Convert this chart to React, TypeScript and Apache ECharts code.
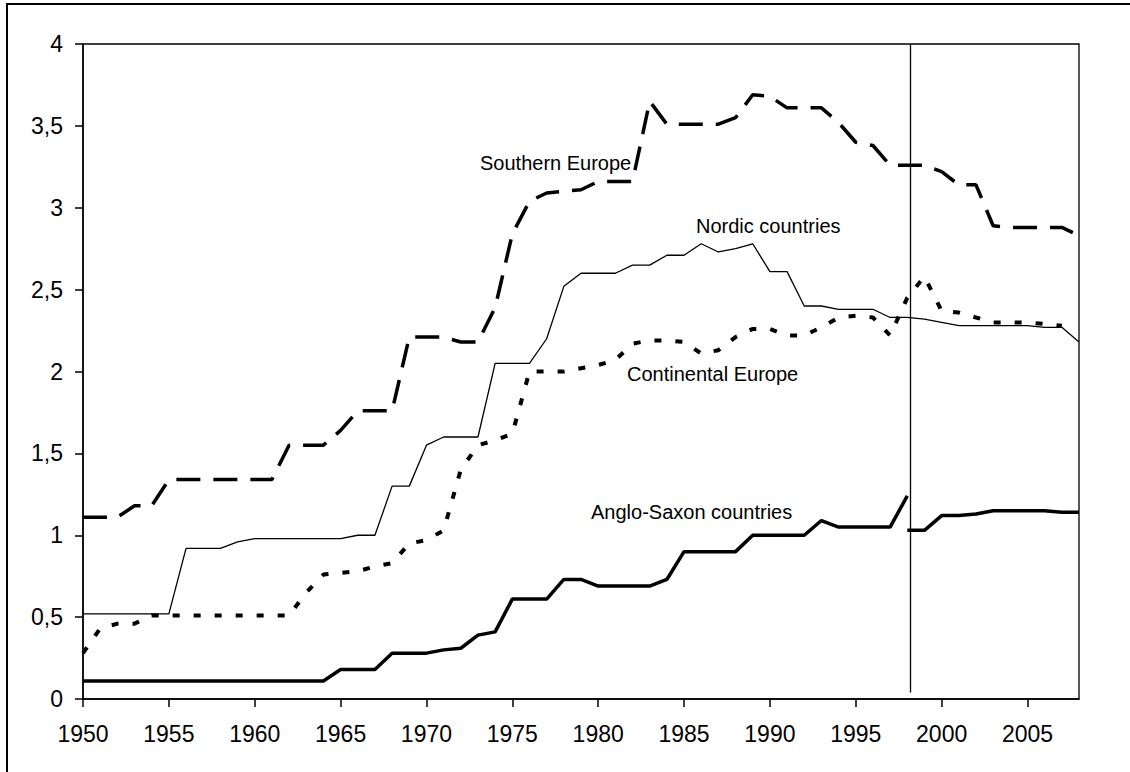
import React, { useEffect, useRef } from "react";
import * as echarts from "echarts";

const YEARS = [
  1950, 1951, 1952, 1953, 1954, 1955, 1956, 1957, 1958, 1959,
  1960, 1961, 1962, 1963, 1964, 1965, 1966, 1967, 1968, 1969,
  1970, 1971, 1972, 1973, 1974, 1975, 1976, 1977, 1978, 1979,
  1980, 1981, 1982, 1983, 1984, 1985, 1986, 1987, 1988, 1989,
  1990, 1991, 1992, 1993, 1994, 1995, 1996, 1997, 1998, 1999,
  2000, 2001, 2002, 2003, 2004, 2005, 2006, 2007, 2008,
];

const X_TICKS = [1950, 1955, 1960, 1965, 1970, 1975, 1980, 1985, 1990, 1995, 2000, 2005];

const SOUTHERN_EUROPE = [
  1.11, 1.11, 1.11, 1.18, 1.18, 1.34, 1.34, 1.34, 1.34, 1.34,
  1.34, 1.34, 1.55, 1.55, 1.55, 1.64, 1.76, 1.76, 1.76, 2.21,
  2.21, 2.21, 2.18, 2.18, 2.39, 2.84, 3.04, 3.09, 3.10, 3.11,
  3.16, 3.16, 3.16, 3.65, 3.51, 3.51, 3.51, 3.51, 3.55, 3.69,
  3.68, 3.61, 3.61, 3.61, 3.52, 3.40, 3.38, 3.26, 3.26, 3.26,
  3.22, 3.14, 3.14, 2.89, 2.88, 2.88, 2.88, 2.88, 2.83,
];

const NORDIC = [
  0.52, 0.52, 0.52, 0.52, 0.52, 0.52, 0.92, 0.92, 0.92, 0.96,
  0.98, 0.98, 0.98, 0.98, 0.98, 0.98, 1.00, 1.00, 1.30, 1.30,
  1.55, 1.60, 1.60, 1.60, 2.05, 2.05, 2.05, 2.20, 2.52, 2.60,
  2.60, 2.60, 2.65, 2.65, 2.71, 2.71, 2.78, 2.73, 2.75, 2.78,
  2.61, 2.61, 2.40, 2.40, 2.38, 2.38, 2.38, 2.33, 2.33, 2.32,
  2.30, 2.28, 2.28, 2.28, 2.28, 2.28, 2.27, 2.27, 2.18,
];

const CONTINENTAL = [
  0.28, 0.43, 0.46, 0.46, 0.51, 0.51, 0.51, 0.51, 0.51, 0.51,
  0.51, 0.51, 0.51, 0.65, 0.76, 0.77, 0.78, 0.81, 0.83, 0.95,
  0.97, 1.03, 1.40, 1.55, 1.58, 1.62, 2.00, 2.00, 2.00, 2.02,
  2.04, 2.07, 2.17, 2.19, 2.19, 2.18, 2.11, 2.13, 2.21, 2.26,
  2.26, 2.22, 2.22, 2.27, 2.33, 2.34, 2.33, 2.22, 2.45, 2.58,
  2.37, 2.36, 2.33, 2.30, 2.30, 2.30, 2.29, 2.28, null,
];

// Anglo-Saxon: series break in 1998
const ANGLO_SAXON_BEFORE = [
  0.11, 0.11, 0.11, 0.11, 0.11, 0.11, 0.11, 0.11, 0.11, 0.11,
  0.11, 0.11, 0.11, 0.11, 0.11, 0.18, 0.18, 0.18, 0.28, 0.28,
  0.28, 0.30, 0.31, 0.39, 0.41, 0.61, 0.61, 0.61, 0.73, 0.73,
  0.69, 0.69, 0.69, 0.69, 0.73, 0.90, 0.90, 0.90, 0.90, 1.00,
  1.00, 1.00, 1.00, 1.09, 1.05, 1.05, 1.05, 1.05, 1.24,
];
const ANGLO_SAXON_AFTER = [
  1.03, 1.03, 1.12, 1.12, 1.13, 1.15, 1.15, 1.15, 1.15, 1.14, 1.14,
];

const BREAK_YEAR = 1998.2;

const SERIES_LABELS = [
  { text: "Southern Europe", x: 480, y: 163 },
  { text: "Nordic countries", x: 696, y: 226 },
  { text: "Continental Europe", x: 627, y: 374 },
  { text: "Anglo-Saxon countries", x: 591, y: 512 },
];

const FONT = '"Liberation Sans", Arial, sans-serif';

function pairs(values: (number | null)[], offset = 0) {
  return values.map((v, i) => [YEARS[i + offset], v === null ? "-" : v]);
}

export default function App() {
  const ref = useRef<HTMLDivElement>(null);

  useEffect(() => {
    if (!ref.current) return;
    const chart = echarts.init(ref.current, null, { renderer: "svg" });

    const angloData = [
      ...pairs(ANGLO_SAXON_BEFORE),
      [1998, "-"],
      ...pairs(ANGLO_SAXON_AFTER, YEARS.indexOf(1998)),
    ];

    const base = {
      type: "line",
      showSymbol: false,
      symbol: "none",
      connectNulls: false,
      silent: true,
    };

    chart.setOption({
      animation: false,
      backgroundColor: "#fff",
      grid: {
        left: 83,
        top: 44,
        right: 51,
        bottom: 73,
        show: true,
        borderColor: "#000",
        borderWidth: 1.3,
        backgroundColor: "transparent",
      },
      xAxis: {
        type: "value",
        min: 1950,
        max: 2008,
        interval: 5,
        axisLine: { show: true, onZero: false, lineStyle: { color: "#000", width: 1.5 } },
        axisTick: {
          show: true,
          length: 8,
          inside: false,
          customValues: X_TICKS,
          lineStyle: { color: "#000", width: 1.5 },
        },
        axisLabel: {
          customValues: X_TICKS,
          color: "#000",
          fontSize: 23,
          fontFamily: FONT,
          margin: 23,
          formatter: (v: number) => String(Math.round(v)),
        },
        splitLine: { show: false },
      },
      yAxis: {
        type: "value",
        min: 0,
        max: 4,
        interval: 0.5,
        axisLine: { show: true, lineStyle: { color: "#000", width: 1.5 } },
        axisTick: { show: true, length: 8, inside: false, lineStyle: { color: "#000", width: 1.5 } },
        axisLabel: {
          color: "#000",
          fontSize: 23,
          fontFamily: FONT,
          margin: 20,
          formatter: (v: number) => String(v).replace(".", ","),
        },
        splitLine: { show: false },
      },
      series: [
        {
          ...base,
          name: "Southern Europe",
          data: pairs(SOUTHERN_EUROPE),
          lineStyle: { color: "#000", width: 3.5, type: [24, 13], cap: "butt" },
          markLine: {
            silent: true,
            symbol: ["none", "none"],
            label: { show: false },
            lineStyle: { color: "#000", width: 1.3, type: "solid" },
            data: [[{ coord: [BREAK_YEAR, 0.04] }, { coord: [BREAK_YEAR, 4] }]],
          },
        },
        {
          ...base,
          name: "Nordic countries",
          data: pairs(NORDIC),
          lineStyle: { color: "#000", width: 1.3, type: "solid" },
        },
        {
          ...base,
          name: "Continental Europe",
          data: pairs(CONTINENTAL),
          lineStyle: { color: "#000", width: 4, type: [7, 14], cap: "butt" },
        },
        {
          ...base,
          name: "Anglo-Saxon countries",
          data: angloData,
          lineStyle: { color: "#000", width: 3.5, type: "solid" },
        },
      ],
      graphic: [
        {
          type: "rect",
          silent: true,
          shape: { x: 7, y: 4, width: 1140, height: 790 },
          style: { fill: "none", stroke: "#000", lineWidth: 2 },
        },
        ...SERIES_LABELS.map((l) => ({
          type: "text",
          silent: true,
          x: l.x,
          y: l.y,
          style: {
            text: l.text,
            fill: "#000",
            font: `20px ${FONT}`,
            align: "left",
            verticalAlign: "middle",
          },
        })),
      ],
    });

    return () => chart.dispose();
  }, []);

  return (
    <div
      ref={ref}
      style={{ position: "absolute", left: 0, top: 0, width: 1130, height: 772 }}
    />
  );
}
